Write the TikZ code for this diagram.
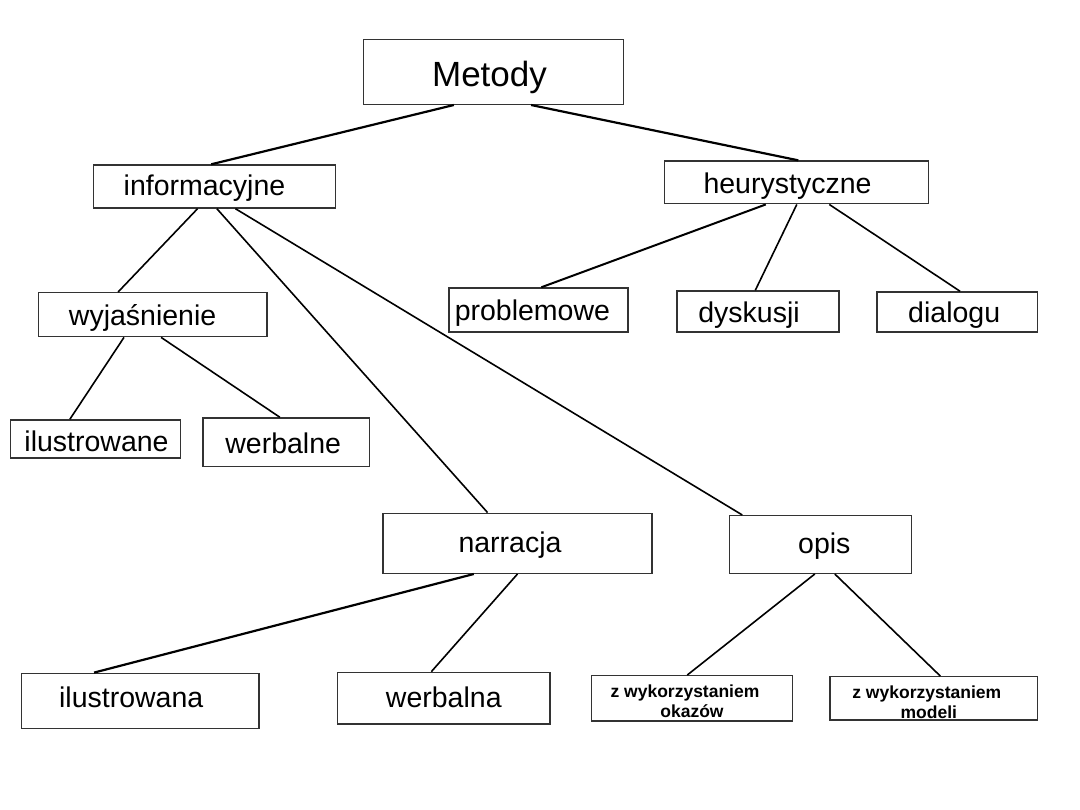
\documentclass[tikz,border=0pt]{standalone}
\usepackage{fontspec}
\setmainfont{Liberation Sans}
\newcommand{\sh}[1]{\hspace*{#1pt}}
\begin{document}
\begin{tikzpicture}[x=1pt,y=-1pt,
 box/.style={draw=black!80, line width=1.4pt, inner sep=0pt, text height=24pt, text depth=2pt, font=\fontsize{28.5}{32}\selectfont},
 small/.style={font=\bfseries\fontsize{17.5}{20}\selectfont, align=center, text height=, text depth=},
 con/.style={line width=1.6pt, black}]
\useasboundingbox[fill=white] (0,0) rectangle (1080,810);
\node[box, minimum width=259.7, minimum height=65, text height=30pt, text depth=0pt, font=\fontsize{35}{38}\selectfont] (M) at (493.5,71.8) {\sh{-8}Metody};
\node[box, minimum width=241.7, minimum height=43, text height=22pt, text depth=4pt] (inf) at (214.5,186.5) {\sh{-20}informacyjne};
\node[box, minimum width=263.8, minimum height=42.7] (heu) at (796.5,182.4) {\sh{-18}heurystyczne};
\node[box, minimum width=228.8, minimum height=44] (wyj) at (152.6,314.7) {\sh{-20}wyjaśnienie};
\node[box, minimum width=178.8, minimum height=44] (prob) at (538.4,310) {\sh{-12}problemowe};
\node[box, minimum width=162, minimum height=41] (dys) at (758,311.5) {\sh{-18}dyskusji};
\node[box, minimum width=160.8, minimum height=40] (dia) at (957.2,312) {\sh{-6}dialogu};
\node[box, minimum width=170.5, minimum height=38, text height=25pt, text depth=0pt] (ilu) at (95.5,439) {\sh{2}ilustrowane};
\node[box, minimum width=166.5, minimum height=48.7] (wer) at (286.2,442.3) {\sh{-6}werbalne};
\node[box, minimum width=269, minimum height=60, text height=22pt, text depth=4pt] (nar) at (517.5,543.3) {\sh{-15}narracja};
\node[box, minimum width=181.8, minimum height=57.6, text height=22pt, text depth=4pt] (opis) at (820.3,544.5) {\sh{8}opis};
\node[box, minimum width=237.7, minimum height=55, text height=20pt, text depth=6pt] (ilua) at (140.2,700.8) {\sh{-18}ilustrowana};
\node[box, minimum width=212.5, minimum height=51.7, text height=22pt, text depth=4pt] (wera) at (443.8,698.2) {werbalna};
\node[box, small, minimum width=200.7, minimum height=45.3] (oka) at (692,698.4) {\rule{0pt}{17.6pt}\sh{-14}z wykorzystaniem\\okazów};
\node[box, small, minimum width=207.6, minimum height=43.3] (mod) at (933.8,698.4) {\rule{0pt}{19.5pt}\sh{-14}z wykorzystaniem\\\sh{-10}modeli};

\draw[con, line width=2.2pt] ([xshift=90.9]M.south west) -- ([xshift=118.3]inf.north west);
\draw[con, line width=2.2pt] ([xshift=168.1]M.south west) -- ([xshift=134.4]heu.north west);
\draw[con] ([xshift=104.6]inf.south west) -- ([xshift=80.6]wyj.north west);
\draw[con] ([xshift=123.9]inf.south west) -- ([xshift=105.3]nar.north west);
\draw[con] ([xshift=142.5]inf.south west) -- ([xshift=13.6]opis.north west);
\draw[con, line width=2pt] ([xshift=101.9]heu.south west) -- ([xshift=93]prob.north west);
\draw[con] ([xshift=132.9]heu.south west) -- ([xshift=79]dys.north west);
\draw[con] ([xshift=165.4]heu.south west) -- ([xshift=84]dia.north west);
\draw[con] ([xshift=86.5]wyj.south west) -- ([xshift=60.3]ilu.north west);
\draw[con] ([xshift=123.6]wyj.south west) -- ([xshift=77.6]wer.north west);
\draw[con, line width=2.2pt] ([xshift=91.5]nar.south west) -- ([xshift=73.4]ilua.north west);
\draw[con] ([xshift=135.2]nar.south west) -- ([xshift=94.5]wera.north west);
\draw[con] ([xshift=86.1]opis.south west) -- ([xshift=96.3]oka.north west);
\draw[con] ([xshift=106.1]opis.south west) -- ([xshift=111]mod.north west);
\end{tikzpicture}
\end{document}
